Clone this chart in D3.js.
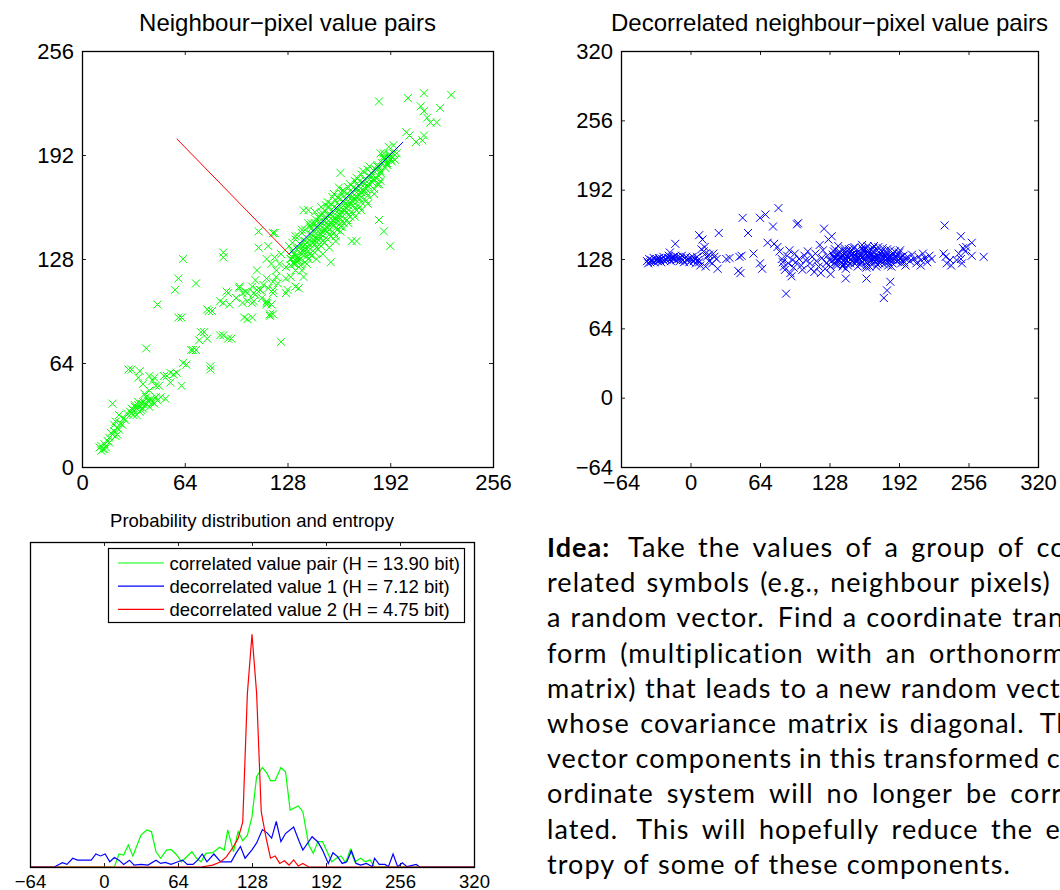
<!DOCTYPE html>
<html>
<head>
<meta charset="utf-8">
<script src="https://cdn.jsdelivr.net/npm/d3@7"></script>
<style>
  body { margin: 0; background: #fff; }
</style>
</head>
<body>
<svg id="fig" width="1060" height="890"></svg>
<script>
// ---- data ----
var ticks256 = [0, 64, 128, 192, 256];
var ticks320 = [-64, 0, 64, 128, 192, 256, 320];

// neighbour pixel pairs (x = pixel, y = right neighbour)
var pairsSparse = [
  [11,12],[12,13],[13,11],[14,14],[15,12],[16,16],[17,15],[12,10],[14,11],
  [18,21],[19,20],[20,22],[21,19],[22,24],[23,23],[20,26],[24,27],[25,26],[21,28],[26,30],[27,29],[23,32],[28,33],[19,39],[17,18],[22,20],
  [30,34],[31,36],[32,35],[33,37],[34,36],[35,38],[36,37],[37,39],[38,40],[39,38],[40,39],[41,41],[42,40],[43,42],[44,40],[46,43],[33,38],[35,40],[38,36],[31,33],[45,39],[47,41],[36,34],[42,37],[34,32],[40,43],[37,35],[32,32],
  [29,60],[31,60],[36,59],[35,55],[38,51],[42,56],[44,53],[46,50],[45,55],[51,56],[53,56],[55,58],[57,57],[52,42],[55,52],[59,58],[62,50],[49,43],[40,73],[63,64],[48,50],[42,47],[39,45],
  [65,63],[68,72],[69,72],[71,72],[73,78],[74,83],[76,83],[78,79],[80,60],[80,62],[86,81],[88,81],[91,79],[93,79],
  [58,109],[60,116],[63,128],[71,113],[47,100],[60,92],[62,92],
  [78,97],[79,96],[81,96],[86,102],[88,101],[90,108],[91,107],[92,100],[88,132],[88,129],
  [98,111],[100,101],[100,107],[103,107],[101,92],[103,91],[106,92],[103,102],[107,102],[108,106],[109,109],[111,109],[106,101],
  [115,101],[117,94],[117,93],[115,100],[118,100],[119,94],[119,109],[122,113],[124,77],[112,104],[96,104],
  [110,135],[116,136],[119,144],[115,128],[120,129],[118,125],[123,125],[121,121],[127,123],[124,131],[130,128],[132,125],[133,121],
  [130,117],[127,116],[121,117],[119,114],[115,116],[113,112],[116,110],[109,121],[108,115],[106,111],[111,109],[98,110],[102,108],
  [107,107],[115,102],[119,107],[128,109],[133,111],[135,110],[127,107],
  [185,225],[203,227],[213,230],[230,229],[211,222],[223,221],[213,219],[215,215],[217,212],[221,212],[202,206],[204,204],
  [208,200],[212,201],[213,204],[191,197],[188,191],[192,189],[190,187],[186,193],[192,192],[194,198],[196,193],[195,189],
  [185,174],[185,152],[188,145],[192,136],[168,139],[155,126],[138,158],[138,117],[161,181],[171,139],[141,158],[110,145],
  [120,144],[133,125],[137,121]
];
var pairsBand = [
  [130,128],[131,133],[129,136],[130,124],[132,131],[133,130],[132,126],[131,138],[134,134],
  [134,129],[135,135],[133,140],[136,132],[134,127],[137,131],[136,137],[135,142],[138,134],[136,128],
  [138,133],[139,139],[137,144],[140,130],[138,136],[139,126],[141,135],[140,141],[142,131],[140,138],[139,146],[141,128],
  [142,137],[143,143],[141,133],[144,140],[142,148],[143,130],[145,139],[144,145],[146,135],[144,142],[143,150],[145,132],[146,128],
  [146,141],[147,147],[145,137],[148,144],[146,152],[147,134],[145,157],[149,143],[148,149],[150,139],[148,146],[147,154],[149,136],[150,131],
  [150,145],[151,151],[149,141],[152,148],[150,156],[151,138],[149,160],[153,147],[152,153],[154,143],[152,150],[151,158],[153,140],[154,135],
  [154,149],[155,155],[153,145],[156,152],[154,160],[155,142],[153,163],[157,151],[156,157],[158,147],[156,154],[155,162],[157,144],[158,139],
  [158,153],[159,159],[157,149],[160,156],[158,164],[159,146],[157,168],[161,155],[160,161],[162,151],[160,158],[159,166],[161,148],[162,170],
  [162,157],[163,163],[161,153],[164,160],[162,168],[163,150],[161,145],[165,159],[164,165],[166,155],[164,162],[163,170],[165,152],[166,172],
  [166,161],[167,167],[165,157],[168,164],[166,172],[167,154],[169,163],[168,169],[170,159],[168,166],[167,174],[169,156],[170,176],
  [170,165],[171,171],[169,161],[172,168],[170,176],[171,158],[173,167],[172,173],[174,163],[172,170],[171,178],[173,160],
  [174,169],[175,175],[173,165],[176,172],[174,180],[177,171],[176,177],[178,167],[176,174],[175,182],[177,164],
  [178,173],[179,179],[177,169],[180,176],[178,183],[181,175],[180,181],[182,171],[180,178],[179,185],
  [182,177],[183,183],[181,180],[184,186],[185,179],[184,185],[186,182],[184,174],
  [186,181],[187,187],[185,184],[188,190],[189,184],[188,190],[190,186],[188,193],
  [190,186],[191,192],[189,189],[193,188],[192,190],[194,193],
  [133,142],[137,146],[141,150],[136,124],[140,125],[144,138],[148,151],[151,146],[155,150],[159,152],[163,158],[167,162],
  [171,166],[175,170],[179,174],[183,178],[147,140],[153,155],[157,160],[161,165],[165,168],[169,172],[173,176],[145,150],
  [149,155],[152,161],[156,166],[160,172],[139,137],[143,147],[158,142],[162,148],[166,150],[170,154],[174,158],[178,162],
  [182,168],[186,176],[131,129],[135,127]
];
// principal axes drawn from the mean
var axisRed = [[59, 202], [129, 131]];
var axisBlue = [[129, 131], [200, 200]];

// decorrelated pairs
var decoSparse = [
  [-40,126],[-39,124],[-38,128],[-37,125],[-36,127],[-35,126],[-34,129],[-33,125],[-32,127],[-31,128],[-30,126],[-29,129],
  [-28,127],[-27,125],[-26,128],[-25,130],[-24,126],[-23,128],[-22,127],[-21,129],[-20,131],[-19,128],[-18,126],[-17,129],
  [-16,130],[-15,128],[-14,131],[-13,127],[-12,130],[-11,128],[-10,126],[-9,129],[-8,131],[-7,127],[-6,125],[-5,129],
  [-4,130],[-3,127],[-2,128],[-1,125],[0,129],[1,127],[2,130],[3,126],[4,128],[5,124],[6,130],[7,127],[8,125],
  [-19,134],[-14,142],[8,150],[11,146],[13,139],[10,137],[12,135],[14,133],[15,130],[17,132],[9,122],[14,121],[17,126],
  [20,124],[22,130],[21,133],[24,128],[25,119],[26,152],[33,128],[36,129],[44,117],[46,115],[45,130],[47,131],[48,166],
  [53,152],[58,133],[64,166],[69,169],[71,143],[64,124],[66,119],[76,158],[81,175],[77,142],[80,139],
  [82,135],[84,128],[85,125],[86,121],[87,118],[88,96],[89,131],[90,124],[91,136],[92,115],[93,112],[94,127],[95,120],
  [96,133],[98,160],[99,161],[97,125],[100,128],[102,122],[103,118],[105,131],[106,127],[108,135],[110,124],[111,119],
  [112,130],[114,116],[115,133],[116,126],[118,121],[119,141],[120,115],[121,129],[122,136],[123,156],[124,119],[125,124],
  [126,131],[127,146],[128,127],[130,149],[129,114],
  [200,130],[202,126],[204,132],[206,128],[208,124],[210,130],[212,127],[214,133],[216,129],[218,125],[220,131],[222,128],
  [212,122],[198,122],[234,159],[233,133],[236,124],[239,127],[240,122],[235,130],[245,127],[247,133],[249,149],[251,138],
  [249,128],[254,139],[253,135],[259,143],[259,131],[270,130],[250,124],
  [143,110],[162,110],[178,92],[181,99],[184,107]
];
var decoDense = [
  [130,126],[131,132],[129,121],[133,128],[132,135],[134,123],[132,130],[134,125],[135,131],[133,137],[136,128],
  [137,127],[136,133],[135,122],[138,130],[136,140],[138,129],[139,124],[137,135],[140,131],[141,126],[140,132],[142,138],
  [140,121],[139,129],[142,128],[143,134],[141,123],[144,130],[142,136],[145,125],[144,131],[146,137],[144,127],[143,119],
  [146,129],[147,135],[145,122],[148,132],[149,126],[148,132],[150,138],[148,128],[147,124],[150,130],[151,124],[149,136],
  [152,127],[150,133],[153,127],[152,133],[154,121],[152,130],[151,139],[154,129],[155,135],[153,125],[156,131],
  [157,126],[156,132],[158,138],[156,123],[155,129],[158,130],[159,136],[157,124],[160,127],[158,141],
  [161,128],[160,134],[162,122],[160,131],[159,137],[162,125],[163,131],[161,137],[164,129],[162,120],
  [165,130],[164,136],[166,124],[164,133],[163,140],[166,127],[167,133],[165,121],[168,130],
  [169,129],[168,135],[170,125],[168,138],[167,132],[170,126],[171,132],[169,140],[172,123],[170,129],
  [173,130],[172,136],[174,124],[172,128],[171,121],[174,127],[175,133],[173,139],[176,131],
  [177,129],[176,135],[178,123],[176,126],[178,126],[179,132],[177,138],[180,130],[181,128],[180,134],[182,122],[180,131],
  [182,125],[183,131],[181,137],[184,129],[185,130],[184,136],[186,124],[184,127],[186,127],[187,133],[185,121],
  [189,129],[188,135],[190,126],[190,126],[191,132],[189,130],[193,128],[192,134],[194,124],[194,130],[195,127],[193,136],
  [197,125],[196,131],[198,128]
];

// probability distributions (height in % of axes height)
var distCorrelated = [[-64,0],[9,0],[13,4.0],[17,3.7],[21,6.8],[25,3.4],[32,9.8],[37,11.4],[41,10.9],[45,4.7],[49,2.7],[54,5.2],
  [58,5.4],[63,3.7],[67,1.6],[76,4.7],[80,2.7],[84,1.6],[88,4.2],[94,4.4],[100,6.1],[104,5.2],[107,11.4],[112,4.7],[116,10.9],
  [120,8.1],[124,9.8],[128,15.5],[132,27.8],[137,30.6],[141,28.8],[144,26.6],[148,26.6],[153,30.6],[157,29.3],[161,17.5],
  [168,18.8],[172,17.0],[177,6.8],[181,4.2],[185,7.8],[189,7.8],[197,1.6],[201,2.7],[205,3.4],[209,1.3],[213,5.4],[217,1.6],
  [222,2.7],[226,1.6],[230,2.2],[234,0],[320,0]];
var distDeco1 = [[-64,0],[-43,0],[-36,1.3],[-32,0.8],[-27,2.7],[-23,2.1],[-11,2.1],[-7,4.0],[-3,3.4],[1,4.0],[5,1.6],[9,2.9],
  [13,2.1],[17,0.8],[22,2.1],[26,0.6],[32,0.8],[38,0.6],[45,2.1],[49,1.1],[53,1.4],[58,0.8],[64,1.6],[68,2.1],[72,0.8],
  [77,0.8],[81,2.1],[85,4.0],[89,1.6],[95,4.0],[101,1.6],[110,1.6],[114,4.1],[118,6.3],[122,2.7],[128,5.3],[132,7.4],
  [137,11.5],[141,10.5],[145,8.9],[149,14.0],[153,7.8],[157,10.3],[164,12.3],[169,7.7],[172,5.2],[180,9.3],[185,7.7],
  [189,5.2],[194,1.1],[198,4.4],[202,3.2],[206,1.1],[210,1.6],[214,5.0],[218,1.1],[222,0.6],[227,1.1],[232,0.1],[234,2.7],
  [238,0.8],[243,0.8],[246,0.1],[250,4.0],[254,0.1],[258,1.3],[262,0.1],[270,0.8],[273,0],[320,0]];
var distDeco2 = [[-64,0],[84,0],[94,0.6],[101,1.6],[106,3.2],[112,6.3],[116,8.8],[120,13.9],[124,53.4],[128,71.6],[132,53.4],
  [136,17.0],[140,9.3],[144,2.7],[148,3.4],[152,1.1],[156,1.9],[160,0.6],[164,2.2],[168,0.3],[172,1.1],[177,0],[320,0]];

var legendLabels = [
  'correlated value pair (H = 13.90 bit)',
  'decorrelated value 1 (H = 7.12 bit)',
  'decorrelated value 2 (H = 4.75 bit)'
];
var seriesColors = ['#00ff00', '#0000ff', '#ff0000'];

var ideaLines = [
  'Idea: Take the values of a group of cor-',
  'related symbols (e.g., neighbour pixels) as',
  'a random vector. Find a coordinate trans-',
  'form (multiplication with an orthonormal',
  'matrix) that leads to a new random vector',
  'whose covariance matrix is diagonal. The',
  'vector components in this transformed co-',
  'ordinate system will no longer be corre-',
  'lated. This will hopefully reduce the en-',
  'tropy of some of these components.'
];

// ---- drawing ----
var svg = d3.select('#fig');
var font = '"Liberation Sans", Arial, Helvetica, sans-serif';

var frame = function (x, y, o) {
  var g = svg.append('g').attr('font-family', font);
  var yb = y.range()[0], yt = y.range()[1], xl = x.range()[0], xr = x.range()[1];
  var fmt = d3.format('d');

  var bottom = g.append('g').attr('transform', 'translate(0,' + yb + ')')
    .call(d3.axisBottom(x).tickValues(o.xt).tickSizeInner(-4).tickSizeOuter(0).tickPadding(o.xpad).tickFormat(fmt));
  var top = g.append('g').attr('transform', 'translate(0,' + yt + ')')
    .call(d3.axisTop(x).tickValues(o.xt).tickSizeInner(-4).tickSizeOuter(0).tickFormat(''));
  var axes = [bottom, top];
  if (o.yt) {
    axes.push(g.append('g').attr('transform', 'translate(' + xl + ',0)')
      .call(d3.axisLeft(y).tickValues(o.yt).tickSizeInner(-4).tickSizeOuter(0).tickPadding(o.ypad).tickFormat(fmt)));
    axes.push(g.append('g').attr('transform', 'translate(' + xr + ',0)')
      .call(d3.axisRight(y).tickValues(o.yt).tickSizeInner(-4).tickSizeOuter(0).tickFormat('')));
  }
  axes.forEach(function (a) {
    a.select('.domain').remove();
    a.selectAll('.tick line').attr('stroke', '#222');
    a.selectAll('text').attr('fill', '#000').attr('font-size', o.fs).attr('font-family', font);
  });

  svg.append('text').attr('x', (xl + xr) / 2).attr('y', o.ty)
    .attr('text-anchor', 'middle').attr('font-family', font).attr('font-size', o.tfs)
    .text(o.title);
  return g;
};

var box = function (x, y) {
  svg.append('rect')
    .attr('x', x.range()[0] + 0.5).attr('y', y.range()[1] + 0.5)
    .attr('width', x.range()[1] - x.range()[0]).attr('height', y.range()[0] - y.range()[1])
    .attr('fill', 'none').attr('stroke', '#000').attr('stroke-width', 1.3);
};

var crosses = function (pts, x, y, color) {
  svg.append('g').selectAll('path')
    .data(pts)
    .enter()
    .append('path')
    .attr('transform', function (p) { return 'translate(' + x(p[0]) + ',' + y(p[1]) + ')'; })
    .attr('d', 'M-4,-4L4,4M-4,4L4,-4')
    .attr('stroke', color)
    .attr('stroke-width', 1)
    .attr('fill', 'none');
};

// top left: neighbour pixel pairs
var x1 = d3.scaleLinear().domain([0, 256]).range([82, 493]);
var y1 = d3.scaleLinear().domain([0, 256]).range([467, 51]);
frame(x1, y1, {xt: ticks256, yt: ticks256, xpad: 7, ypad: 8, fs: 22, tfs: 24, ty: 31,
  title: 'Neighbour\u2212pixel value pairs'});
crosses(pairsSparse.concat(pairsBand), x1, y1, '#00ff00');
var seg = d3.line().x(function (p) { return x1(p[0]); }).y(function (p) { return y1(p[1]); });
svg.append('path').attr('d', seg(axisRed)).attr('stroke', '#ff0000').attr('fill', 'none');
svg.append('path').attr('d', seg(axisBlue)).attr('stroke', '#0000ff').attr('fill', 'none');
box(x1, y1);

// top right: decorrelated pairs
var x2 = d3.scaleLinear().domain([-64, 320]).range([621, 1038]);
var y2 = d3.scaleLinear().domain([-64, 320]).range([467, 51]);
frame(x2, y2, {xt: ticks320, yt: ticks320, xpad: 7, ypad: 8, fs: 22, tfs: 24, ty: 31,
  title: 'Decorrelated neighbour\u2212pixel value pairs'});
crosses(decoSparse.concat(decoDense), x2, y2, '#0000ff');
box(x2, y2);

// bottom left: distributions
var x3 = d3.scaleLinear().domain([-64, 320]).range([30, 474]);
var y3 = d3.scaleLinear().domain([0, 100]).range([867, 542]);
frame(x3, y3, {xt: ticks320, xpad: 8, fs: 18.5, tfs: 18.5, ty: 527,
  title: 'Probability distribution and entropy'});
var curve = d3.line().x(function (p) { return x3(p[0]); }).y(function (p) { return y3(p[1]); });
[distCorrelated, distDeco1, distDeco2].forEach(function (d, i) {
  svg.append('path').attr('d', curve(d)).attr('fill', 'none')
    .attr('stroke', seriesColors[i]).attr('stroke-width', 1.2);
});
box(x3, y3);

// legend
var lg = svg.append('g').attr('font-family', font).attr('font-size', 18.5);
lg.append('rect').attr('x', 108.5).attr('y', 548.5).attr('width', 356).attr('height', 74)
  .attr('fill', '#fff').attr('stroke', '#000').attr('stroke-width', 1.2);
legendLabels.forEach(function (t, i) {
  var yy = 563 + i * 23.2;
  lg.append('line').attr('x1', 118).attr('x2', 164).attr('y1', yy).attr('y2', yy)
    .attr('stroke', seriesColors[i]).attr('stroke-width', 1.2);
  lg.append('text').attr('x', 169.5).attr('y', yy + 6.5).text(t);
});

// paragraph, justified line by line
var paraLeft = 547, paraRight = 1088, paraTop = 557, paraLead = 35.2, paraFs = 27;
var para = svg.append('g').attr('font-family', 'Lato, "Noto Sans", sans-serif')
  .attr('font-size', paraFs).attr('letter-spacing', 1.05).attr('fill', '#000');
ideaLines.forEach(function (ln, i) {
  var words = ln.split(' ');
  var nodes = words.map(function (w, j) {
    return para.append('text').attr('y', paraTop + i * paraLead)
      .attr('font-weight', i === 0 && j === 0 ? 'bold' : null).text(w);
  });
  var widths = nodes.map(function (n) { return n.node().getComputedTextLength(); });
  var weights = words.slice(0, -1).map(function (w) { return /[.:]$/.test(w) ? 1.45 : 1; });
  var last = i === ideaLines.length - 1;
  var unit = last ? paraFs * 0.3 : (paraRight - paraLeft - d3.sum(widths)) / d3.sum(weights);
  var xx = paraLeft;
  nodes.forEach(function (n, j) {
    n.attr('x', xx);
    xx += widths[j] + (j < weights.length ? weights[j] * unit : 0);
  });
});
</script>
</body>
</html>
